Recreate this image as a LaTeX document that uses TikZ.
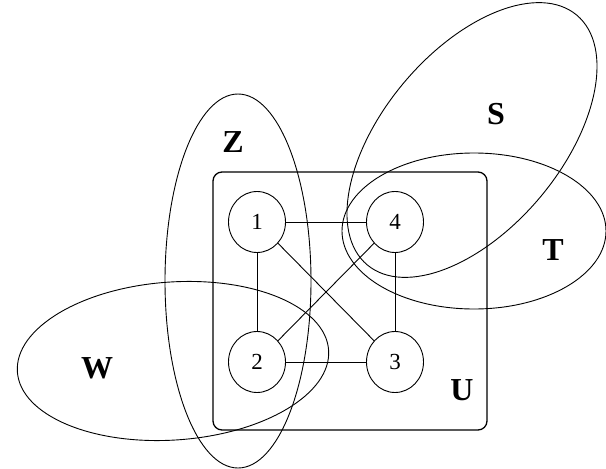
\documentclass[tikz,border=0pt]{standalone}
\usepackage{fontspec}
\setmainfont{Liberation Serif}
\usetikzlibrary{shapes.geometric}

\begin{document}
\begin{tikzpicture}[x=1pt, y=-1pt,
  vertex/.style={ellipse, draw, line width=0.9pt, minimum width=57pt,
                 minimum height=61pt, inner sep=0pt,
                 font=\fontsize{23}{23}\selectfont},
  universe/.style={rectangle, draw, line width=1.3pt, rounded corners=9pt,
                   minimum width=274pt, minimum height=258pt},
  setname/.style={font=\fontsize{32}{32}\selectfont\bfseries},
  set/.style={line width=0.9pt},
  line/.style={line width=0.9pt}
]
\useasboundingbox (0,0) rectangle (606,469);

% Universe
\node[universe] (U) at (350,301) {};

% Vertices
\node[vertex] (v1) at (257,222) {1};
\node[vertex] (v4) at (395,222) {4};
\node[vertex] (v2) at (257,362) {2};
\node[vertex] (v3) at (395,362) {3};

% Edges
\draw[line] (v1) -- (v4);
\draw[line] (v1) -- (v2);
\draw[line] (v4) -- (v3);
\draw[line] (v2) -- (v3);
\draw[line] (v1) -- (v3);
\draw[line] (v4) -- (v2);

% Sets
\coordinate (cZ) at (238,281);
\coordinate (cW) at (173,361);
\coordinate (cS) at (472,140);
\coordinate (cT) at (474,231);
\draw[set] (cZ) ellipse [x radius=73, y radius=187];
\draw[set, rotate around={4:(cW)}] (cW) ellipse [x radius=156, y radius=79];
\draw[set, rotate around={50:(cS)}] (cS) ellipse [x radius=163, y radius=89];
\draw[set] (cT) ellipse [x radius=132, y radius=78];

% Set names
\node[setname] (lZ) at (233,142) {Z};
\node[setname] (lS) at (496,114) {S};
\node[setname] (lT) at (553,250) {T};
\node[setname] (lW) at (97,368) {W};
\node[setname] (lU) at (462,390) {U};
\end{tikzpicture}
\end{document}
